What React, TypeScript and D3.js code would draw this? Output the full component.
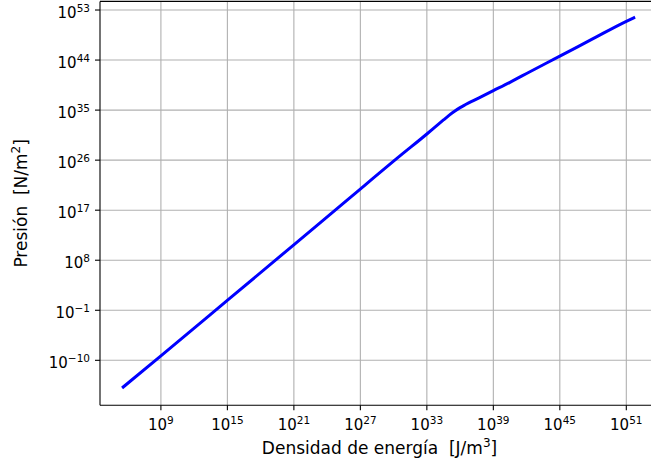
import React from "react";
import * as d3 from "d3";

const energyDensity = [3.98e5, 1.0e9, 1.26e15, 1.26e21, 1.26e26, 3.98e30, 1.0e33, 1.0e34, 3.16e34, 1.0e35, 3.16e35, 1.0e36, 3.16e36, 1.0e37, 6.31e37, 1.0e39, 3.16e40, 2.0e42, 1.0e45, 1.0e48, 1.0e51, 4.68e51];
const pressure = [1.58e-15, 6.31e-10, 8.91, 8.91e10, 2.0e19, 6.31e26, 5.01e30, 2.51e32, 1.7e33, 1.12e34, 6.31e34, 2.82e35, 1.0e36, 3.31e36, 2.0e37, 3.16e38, 1.0e40, 7.94e41, 5.01e44, 7.08e47, 9.33e50, 3.98e51];

const xTicks = [1e9, 1e15, 1e21, 1e27, 1e33, 1e39, 1e45, 1e51];
const xTickExp = ["9", "15", "21", "27", "33", "39", "45", "51"];
const yTicks = [1e-10, 1e-1, 1e8, 1e17, 1e26, 1e35, 1e44, 1e53];
const yTickExp = ["\u221210", "\u22121", "8", "17", "26", "35", "44", "53"];

const xDomain = [Math.pow(10, 3.504), Math.pow(10, 53.95)];
const yDomain = [Math.pow(10, -18.09), Math.pow(10, 54.55)];

const W = 651;
const H = 466;
const L = 100, R = 659, T = 1.4, B = 405.3;
const FONT = "'DejaVu Sans', sans-serif";

export default function App() {
  const x = d3.scaleLog().domain(xDomain).range([L, R]);
  const y = d3.scaleLog().domain(yDomain).range([B, T]);
  const pts: [number, number][] = energyDensity.map((e, i) => [x(e), y(pressure[i])]);
  const line = d3.line().curve(d3.curveMonotoneX)(pts) || "";
  const tickFs = 15;
  const supFs = 10.5;
  const labFs = 17;
  return (
    <div style={{ position: "absolute", left: 0, top: 0 }}>
      <svg width={W} height={H} style={{ display: "block", background: "#fff" }}>
        <defs>
          <clipPath id="plot">
            <rect x={L} y={T} width={R - L} height={B - T} />
          </clipPath>
        </defs>
        <g stroke="#b0b0b0" strokeWidth={1.1}>
          {xTicks.map((t, i) => (
            <line key={"gx" + i} x1={x(t)} x2={x(t)} y1={T} y2={B} />
          ))}
          {yTicks.map((t, i) => (
            <line key={"gy" + i} x1={L} x2={R} y1={y(t)} y2={y(t)} />
          ))}
        </g>
        <path d={line} fill="none" stroke="#0000ff" strokeWidth={3} strokeLinecap="square" strokeLinejoin="round" clipPath="url(#plot)" />
        <g stroke="#000" strokeWidth={1.1} fill="none">
          <line x1={L} x2={L} y1={T} y2={B} />
          <line x1={L} x2={R} y1={B} y2={B} />
          <line x1={L} x2={R} y1={T} y2={T} />
          <line x1={R} x2={R} y1={T} y2={B} />
        </g>
        <g stroke="#000" strokeWidth={1.1}>
          {xTicks.map((t, i) => (
            <line key={"tx" + i} x1={x(t)} x2={x(t)} y1={B} y2={B + 5} />
          ))}
          {yTicks.map((t, i) => (
            <line key={"ty" + i} x1={L - 5} x2={L} y1={y(t)} y2={y(t)} />
          ))}
        </g>
        <g fontFamily={FONT} fill="#000">
          {xTicks.map((t, i) => (
            <text key={"lx" + i} x={x(t)} y={430} fontSize={tickFs} textAnchor="middle">
              <tspan>10</tspan>
              <tspan fontSize={supFs} dy={-6}>{xTickExp[i]}</tspan>
            </text>
          ))}
          {yTicks.map((t, i) => (
            <text key={"ly" + i} x={90} y={y(t) + 7.5} fontSize={tickFs} textAnchor="end">
              <tspan>10</tspan>
              <tspan fontSize={supFs} dy={-6}>{yTickExp[i]}</tspan>
            </text>
          ))}
        </g>
        <text x={(L + R) / 2} y={454} fontFamily={FONT} fontSize={labFs} textAnchor="middle" style={{ whiteSpace: "pre" }}>
          <tspan>{"Densidad de energía  [J/m"}</tspan>
          <tspan fontSize={12} dy={-7}>3</tspan>
          <tspan dy={7}>]</tspan>
        </text>
        <text transform={`translate(27,${(T + B) / 2}) rotate(-90)`} fontFamily={FONT} fontSize={labFs} textAnchor="middle" style={{ whiteSpace: "pre" }}>
          <tspan>{"Presión  [N/m"}</tspan>
          <tspan fontSize={12} dy={-7}>2</tspan>
          <tspan dy={7}>]</tspan>
        </text>
      </svg>
    </div>
  );
}
